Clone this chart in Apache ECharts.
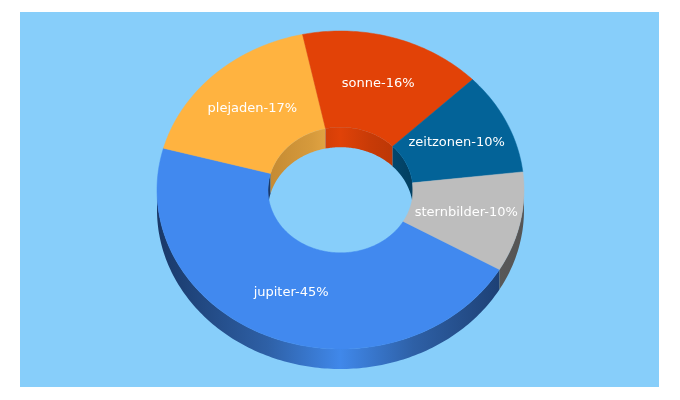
<!DOCTYPE html>
<html><head><meta charset="utf-8">
<style>html,body{margin:0;padding:0;background:#fff}#c{width:680px;height:400px}</style>
<script src="https://cdn.jsdelivr.net/npm/echarts@6/dist/echarts.min.js"></script></head>
<body><div id="c"></div><script>
const categories=['jupiter','plejaden','sonne','zeitzonen','sternbilder'];
const values=[45.9,17.45,16.1,10.4,10.15];
const topColors=['#4189EF','#FFB340','#E24207','#036398','#BDBDBD'];
const wallEdge=['#193868','#C48A32','#B23406','#023F61','#555555'];
const wallQuarter=['#2E60A6','#D69A3C','#C83B07','#03507C','#626262'];
const wallMid=['#4088EA','#EBAC48','#E04208','#03587F','#6E6E6E'];
const startAngle=120;
const total=values.reduce((a,b)=>a+b,0);
const G={cx:340.5,cy:190,rx:183.5,ry:159,hole:0.395,depth:20};
const pt=(deg,f,dy)=>{const t=deg*Math.PI/180;return [G.cx+G.rx*f*Math.sin(t),G.cy-G.ry*f*Math.cos(t)+(dy||0)];};
const arc=(a,b,f,dy)=>{const n=Math.max(2,Math.ceil(Math.abs(b-a)));const p=[];for(let i=0;i<=n;i++)p.push(pt(a+(b-a)*i/n,f,dy));return p;};
function overlap(a,b,lo,hi){const out=[];for(const k of [-360,0,360]){const s=Math.max(a,lo+k),e=Math.min(b,hi+k);if(e>s)out.push([s,e]);}return out;}
function wall(range,f,i,z){
  const [s,e]=range;
  const pts=arc(s,e,f,0).concat(arc(e,s,f,G.depth));
  const R=G.rx*f;
  const grad=new echarts.graphic.LinearGradient(G.cx-R,0,G.cx+R,0,[
    {offset:0,color:wallEdge[i]},{offset:.3,color:wallQuarter[i]},{offset:.5,color:wallMid[i]},
    {offset:.7,color:wallQuarter[i]},{offset:1,color:wallEdge[i]}],true);
  return {type:'polygon',z2:z,shape:{points:pts},style:{fill:grad}};
}
function renderItem(params,api){
  const i=params.dataIndex;
  let before=0;for(let k=0;k<i;k++)before+=values[k];
  const a=startAngle+before/total*360, b=a+api.value(0)/total*360, m=(a+b)/2;
  const children=[];
  overlap(a,b,270,450).forEach(r=>children.push(wall(r,G.hole,i,1)));
  overlap(a,b,90,270).forEach(r=>children.push(wall(r,1,i,2)));
  children.push({type:'polygon',z2:3,shape:{points:arc(a,b,1).concat(arc(b,a,G.hole))},
    style:{fill:topColors[i],stroke:topColors[i],lineWidth:.5}});
  const c=pt(m,0.7);
  children.push({type:'text',z2:4,style:{text:categories[i]+'-'+Math.floor(api.value(0))+'%',x:c[0],y:c[1],
    fill:'#fff',font:'13px "DejaVu Sans"',align:'center',verticalAlign:'middle'}});
  return {type:'group',children};
}
const chart=echarts.init(document.getElementById('c'),null,{renderer:'canvas'});
chart.setOption({animation:false,backgroundColor:'#fff',
  graphic:[{type:'rect',z:-1,silent:true,shape:{x:20,y:12,width:639,height:375},style:{fill:'#87CEFA'}}],
  series:[{type:'custom',coordinateSystem:'none',silent:true,renderItem,
    data:values.map((v,i)=>({name:categories[i],value:[v]}))}]});
</script></body></html>
